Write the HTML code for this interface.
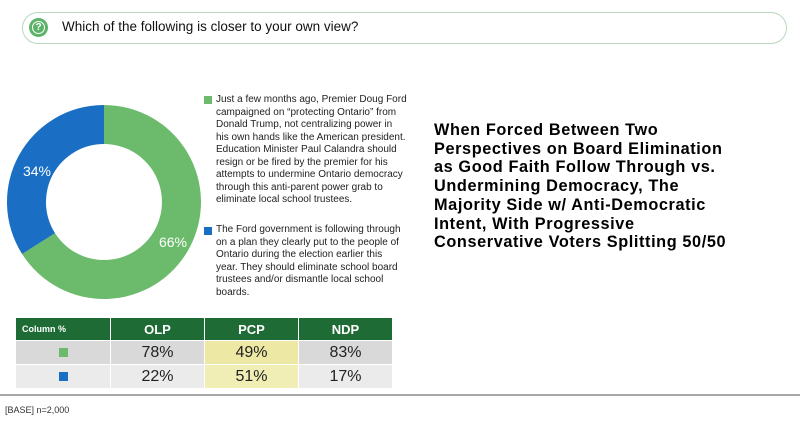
<!DOCTYPE html>
<html><head><meta charset="utf-8"><style>
body{margin:0;width:800px;height:421px;background:#fff;position:relative;overflow:hidden;font-family:"Liberation Sans",sans-serif;color:#111}
.a{position:absolute;white-space:nowrap}
.lg{position:absolute;left:216px;font-size:10px;line-height:12.5px;white-space:nowrap;color:#222}
.t{position:absolute;left:434px;font-weight:bold;font-size:16.3px;line-height:18.7px;letter-spacing:0.6px;white-space:nowrap;color:#000}
table{position:absolute;left:15px;top:317px;border-collapse:collapse}
td{border:1.5px solid #fff;text-align:center;padding:0;font-size:16px;color:#222}
</style></head><body>
<div class="a" style="left:22px;top:12px;width:763px;height:30px;border:1px solid #b9d8bd;border-radius:16px"></div>
<div class="a" style="left:29px;top:18px;width:19px;height:19px;border-radius:50%;background:#5cb368"></div>
<div class="a" style="left:32px;top:21px;width:11px;height:11px;border-radius:50%;border:1.5px solid #fff;color:#fff;font-size:10px;font-weight:bold;line-height:11px;text-align:center">?</div>
<div class="a" style="left:62px;top:19px;font-size:13.5px;color:#111">Which of the following is closer to your own view?</div>
<svg class="a" style="left:0;top:0" width="210" height="310">
<path d="M104,105 A97,97 0 1 1 22.1,254 L55,233.1 A58,58 0 1 0 104,144 Z" fill="#6cbb6c"/>
<path d="M22.1,254 A97,97 0 0 1 104,105 L104,144 A58,58 0 0 0 55,233.1 Z" fill="#1a6ec4"/>
<text x="37" y="176" fill="#fff" font-size="14" text-anchor="middle" font-family="Liberation Sans">34%</text>
<text x="173" y="247" fill="#fff" font-size="14" text-anchor="middle" font-family="Liberation Sans">66%</text>
</svg>
<div class="a" style="left:204px;top:96px;width:8px;height:8px;background:#6cbb6c"></div>
<div class="lg" style="top:94px">Just a few months ago, Premier Doug Ford<br>campaigned on “protecting Ontario” from<br>Donald Trump, not centralizing power in<br>his own hands like the American president.<br>Education Minister Paul Calandra should<br>resign or be fired by the premier for his<br>attempts to undermine Ontario democracy<br>through this anti-parent power grab to<br>eliminate local school trustees.</div>
<div class="a" style="left:204px;top:227px;width:8px;height:8px;background:#1a6ec4"></div>
<div class="lg" style="top:224px">The Ford government is following through<br>on a plan they clearly put to the people of<br>Ontario during the election earlier this<br>year. They should eliminate school board<br>trustees and/or dismantle local school<br>boards.</div>
<div class="t" style="top:121px">When Forced Between Two<br>Perspectives on Board Elimination<br>as Good Faith Follow Through vs.<br>Undermining Democracy, The<br>Majority Side w/ Anti-Democratic<br>Intent, With Progressive<br>Conservative Voters Splitting 50/50</div>
<table>
<tr style="height:23px;background:#1e6b35;color:#fff"><td style="text-align:left;padding-left:6px;font-size:9px;font-weight:bold;color:#fff;width:88px">Column %</td><td style="width:93px;color:#fff;font-weight:bold;font-size:13px">OLP</td><td style="width:93px;color:#fff;font-weight:bold;font-size:13px">PCP</td><td style="width:93px;color:#fff;font-weight:bold;font-size:13px">NDP</td></tr>
<tr style="height:24px;background:#d9d9d9"><td><span style="display:inline-block;width:9px;height:9px;background:#6cbb6c"></span></td><td>78%</td><td style="background:#ede9a5">49%</td><td>83%</td></tr>
<tr style="height:24px;background:#ebebeb"><td><span style="display:inline-block;width:9px;height:9px;background:#1a6ec4"></span></td><td>22%</td><td style="background:#f1eeb5">51%</td><td>17%</td></tr>
</table>
<div class="a" style="left:0;top:394px;width:800px;height:2px;background:#a8a8a8"></div>
<div class="a" style="left:5px;top:405px;font-size:9px;color:#333">[BASE] n=2,000</div>
</body></html>
